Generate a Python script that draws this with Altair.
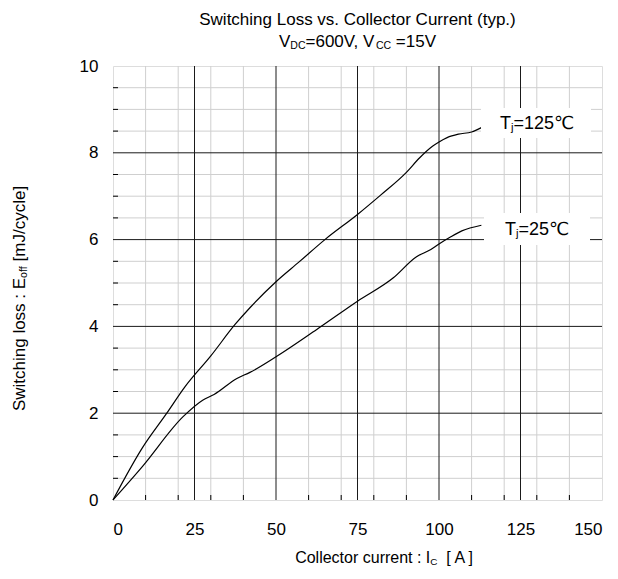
import altair as alt
import pandas as pd

# ---------------- data ----------------
x_ticks = [0, 25, 50, 75, 100, 125, 150]
y_ticks = [0, 2, 4, 6, 8, 10]
x_major = [25, 50, 75, 100, 125]
y_major = [2, 4, 6, 8]
x_minor = [10, 20, 30, 40, 60, 70, 80, 90, 110, 120, 130, 140]
y_minor = [0.5, 1, 1.5, 2.5, 3, 3.5, 4.5, 5, 5.5, 6.5, 7, 7.5, 8.5, 9, 9.5]

ic_125 = [0, 9, 16.5, 22, 30, 37.5, 42, 50, 57, 65, 75, 82, 90, 94, 98, 100, 102.5, 106, 110, 113]
eoff_125 = [0, 1.2, 2.0, 2.6, 3.32, 4.05, 4.43, 5.03, 5.48, 6.0, 6.58, 7.02, 7.55, 7.88, 8.15, 8.25, 8.35, 8.43, 8.48, 8.58]

ic_25 = [0, 9, 21.5, 27.5, 31, 38, 42, 50, 62.5, 75, 86, 93, 97.5, 100, 103.5, 107, 113]
eoff_25 = [0, 0.77, 1.92, 2.3, 2.43, 2.8, 2.94, 3.3, 3.93, 4.58, 5.12, 5.6, 5.77, 5.9, 6.06, 6.2, 6.33]

title1 = "Switching Loss vs. Collector Current (typ.)"
subtitle_parts = [("V", 0), ("DC", 1), ("=600V, V", 0), ("CC", 1), (" =15V", 0)]
xtitle_parts = [("Collector current : I", 0), ("C", 1), ("  [ A ]", 0)]
ytitle_parts = [("Switching loss : E", 0), ("off", 1), (" [mJ/cycle]", 0)]
lab125_parts = [("T", 0), ("j", 1), ("=125\u2103", 0)]
lab25_parts = [("T", 0), ("j", 1), ("=25\u2103", 0)]

# ---------------- style ----------------
FONT = "Liberation Sans, DejaVu Sans"
W, H = 489, 434
XD = [0, 150]
YD = [0, 10]
TICK_FS = 17
TITLE_FS = 17
AX_FS = 16
YT_FS = 17
LAB_FS = 18
SUB_RATIO = 0.62

AW = {' ': 278, '(': 333, ')': 333, ',': 278, '.': 278, '/': 278, ':': 278, '=': 584,
      '[': 278, ']': 278, 'A': 667, 'C': 722, 'D': 722, 'E': 667, 'I': 278, 'L': 556,
      'S': 667, 'T': 611, 'V': 667, 'a': 556, 'c': 500, 'e': 556, 'f': 278, 'g': 556,
      'h': 556, 'i': 222, 'j': 222, 'l': 222, 'm': 833, 'n': 556, 'o': 556, 'p': 556,
      'r': 333, 's': 500, 't': 278, 'u': 556, 'v': 500, 'w': 722, 'y': 500, '\u2103': 1000}
for d in "0123456789":
    AW[d] = 556


def tw(s, fs):
    return sum(AW.get(c, 556) for c in s) * fs / 1000.0


one = pd.DataFrame({"a": [0]})


def X(field):
    return alt.X(field, type="quantitative", scale=alt.Scale(domain=XD, nice=False, zero=False),
                 axis=alt.Axis(values=x_ticks, title=None, grid=False, ticks=False, tickSize=0,
                               domain=False, labelPadding=21, labelFontSize=TICK_FS,
                               labelFont=FONT, labelColor="black", format="d"))


def Y(field):
    return alt.Y(field, type="quantitative", scale=alt.Scale(domain=YD, nice=False, zero=False),
                 axis=alt.Axis(values=y_ticks, title=None, grid=False, ticks=False, tickSize=0,
                               domain=False, labelPadding=15, labelFontSize=TICK_FS,
                               labelFont=FONT, labelColor="black", format="d"))


layers = []

# minor grid
layers.append(alt.Chart(pd.DataFrame({"x": x_minor})).mark_rule(color="#cfcfcf", strokeWidth=1).encode(x=X("x")))
layers.append(alt.Chart(pd.DataFrame({"y": y_minor})).mark_rule(color="#cfcfcf", strokeWidth=1).encode(y=Y("y")))
# inward ticks
layers.append(alt.Chart(pd.DataFrame({"x": x_minor})).mark_rule(color="black", strokeWidth=1).encode(
    x=X("x"), y=alt.value(H), y2=alt.value(H - 5)))
layers.append(alt.Chart(pd.DataFrame({"y": y_minor})).mark_rule(color="black", strokeWidth=1).encode(
    y=Y("y"), x=alt.value(0), x2=alt.value(5)))
# major grid
layers.append(alt.Chart(pd.DataFrame({"x": x_major})).mark_rule(color="#1a1a1a", strokeWidth=1).encode(x=X("x")))
layers.append(alt.Chart(pd.DataFrame({"y": y_major})).mark_rule(color="#1a1a1a", strokeWidth=1).encode(y=Y("y")))

# curves
curves = pd.concat([
    pd.DataFrame({"Ic": ic_125, "E": eoff_125, "s": "125"}),
    pd.DataFrame({"Ic": ic_25, "E": eoff_25, "s": "25"}),
])
layers.append(alt.Chart(curves).mark_line(color="black", strokeWidth=1.2, interpolate="monotone").encode(
    x=X("Ic"), y=Y("E"), detail="s:N"))

# label boxes
for (x1, x2, y1, y2) in [(368, 478, 42, 72), (371, 477, 147, 179)]:
    layers.append(alt.Chart(one).mark_rect(color="white").encode(
        x=alt.value(x1), x2=alt.value(x2), y=alt.value(y1), y2=alt.value(y2)))


def text_piece(t, px, py, fs, angle=0, align="left", baseline="alphabetic"):
    kw = dict(align=align, baseline=baseline, fontSize=fs, font=FONT, color="black")
    if angle:
        kw["angle"] = angle
    return alt.Chart(one).mark_text(**kw).encode(x=alt.value(px), y=alt.value(py), text=alt.value(t))


def split_lead(t):
    s = t.lstrip(" ")
    return s, len(t) - len(s)


def rich_h(parts, cx, by, fs):
    out = []
    sizes = [fs if sub == 0 else fs * SUB_RATIO for _, sub in parts]
    total = sum(tw(t, s) for (t, _), s in zip(parts, sizes))
    x = cx - total / 2.0
    for (t, sub), s in zip(parts, sizes):
        txt, nlead = split_lead(t)
        out.append(text_piece(txt, x + nlead * 278 * s / 1000.0, by + (1.5 if sub else 0), s))
        x += tw(t, s)
    return out


def rich_v(parts, bx, cy, fs):
    out = []
    sizes = [fs if sub == 0 else fs * SUB_RATIO for _, sub in parts]
    total = sum(tw(t, s) for (t, _), s in zip(parts, sizes))
    y = cy + total / 2.0
    for (t, sub), s in zip(parts, sizes):
        txt, nlead = split_lead(t)
        out.append(text_piece(txt, bx + (1.5 if sub else 0), y - nlead * 278 * s / 1000.0, s, angle=270))
        y -= tw(t, s)
    return out


layers.append(text_piece(title1, W / 2.0, -41, TITLE_FS, align="center"))
layers += rich_h(subtitle_parts, W / 2.0, -19, TITLE_FS)
layers += rich_h(xtitle_parts, 272, 497, AX_FS)
layers += rich_v(ytitle_parts, -88, 232, YT_FS)
layers += rich_h(lab125_parts, 423, 63, LAB_FS)
layers += rich_h(lab25_parts, 423, 169, LAB_FS)

chart = alt.layer(*layers).properties(
    width=W, height=H,
    autosize=alt.AutoSizeParams(type="none"),
    padding={"left": 105, "top": 58, "right": 8, "bottom": 70},
).configure_view(stroke="black", strokeWidth=1.2).configure(background="white")

chart.save("out.html", embed_options={"renderer": "svg", "actions": False})
